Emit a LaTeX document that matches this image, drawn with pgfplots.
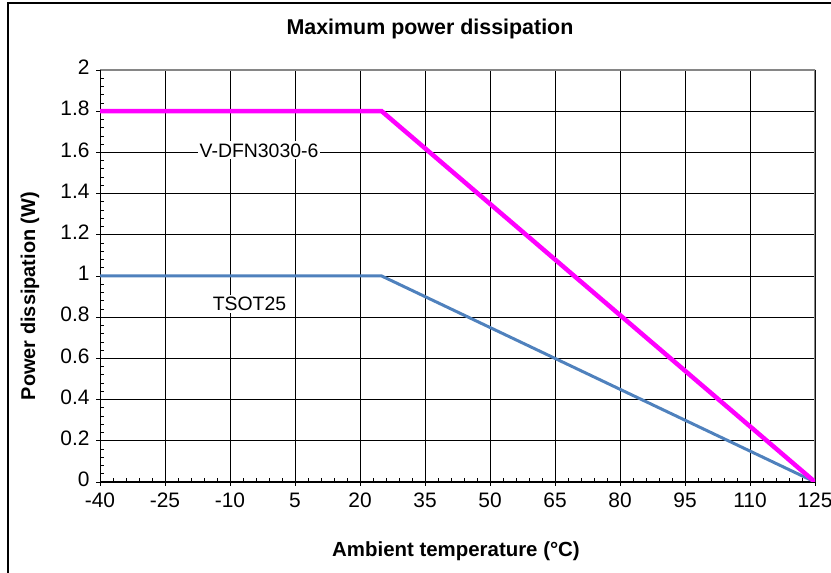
\documentclass[border=0pt]{standalone}
\usepackage{pgfplots}
\pgfplotsset{compat=1.18}
\usepackage{fontspec}
\setmainfont{Liberation Sans}
\definecolor{magline}{RGB}{255,0,255}
\definecolor{blueline}{RGB}{79,129,189}
\definecolor{boxgray}{RGB}{134,134,134}

\begin{document}
\begin{tikzpicture}[x=1bp,y=1bp]
  \useasboundingbox (0,0) rectangle (831,573);
  % outer chart frame (only left and top edges are inside the picture)
  \draw[line width=1.2bp] (8,-10) -- (8,570) -- (845,570);
  \node[font=\bfseries\fontsize{21.5}{24}\selectfont] at (430,544) {Maximum power dissipation};
  \node[font=\bfseries\fontsize{20.5}{24}\selectfont] at (456,22) {Ambient temperature (°C)};
  \node[font=\bfseries\fontsize{20}{24}\selectfont, rotate=90] at (30,277) {Power dissipation (W)};

  \begin{axis}[
    at={(100bp,91bp)}, anchor=south west,
    scale only axis, width=715bp, height=412bp,
    xmin=-40, xmax=125, ymin=0, ymax=2,
    xtick={-40,-25,-10,5,20,35,50,65,80,95,110,125},
    xticklabels={-40,-25,-10,5,20,35,50,65,80,95,110,125},
    ytick={0,0.2,0.4,0.6,0.8,1,1.2,1.4,1.6,1.8,2},
    yticklabels={0,0.2,0.4,0.6,0.8,1,1.2,1.4,1.6,1.8,2},
    minor x tick num=4, minor y tick num=4,
    xtick pos=bottom, ytick pos=left,
    tick align=inside,
    major tick length=4bp, minor tick length=4bp,
    tick style={black, line width=0.75bp},
    extra x ticks={-40,-25,-10,5,20,35,50,65,80,95,110,125},
    extra x tick labels={},
    extra x tick style={tick align=outside, grid=none},
    extra y ticks={0,0.2,0.4,0.6,0.8,1,1.2,1.4,1.6,1.8,2},
    extra y tick labels={},
    extra y tick style={tick align=outside, grid=none},
    grid=major,
    major grid style={black, line width=0.75bp},
    axis line style={draw=none},
    ticklabel style={font=\fontsize{21}{24}\selectfont},
    typeset ticklabels with strut,
    xticklabel style={yshift=-5bp},
    yticklabel style={xshift=-7bp},
  ]
    % axis box: left and bottom black, top and right gray
    \draw[boxgray, line width=1.5bp] (axis cs:-40,2) -- (axis cs:125,2) -- (axis cs:125,0);
    \draw[black, line width=1bp] (axis cs:-40,2) -- (axis cs:-40,0) -- (axis cs:125,0);

    % TSOT25
    \addplot[blueline, line width=3bp] coordinates {(-40,1) (25,1) (125,0)};
    % V-DFN3030-6
    \addplot[magline, line width=4.5bp] coordinates {(-40,1.8) (25,1.8) (125,0)};

    \node[fill=white, inner sep=2bp, font=\fontsize{19.5}{22}\selectfont] at (axis cs:-3.3,1.61) {V-DFN3030-6};
    \node[fill=white, inner sep=2bp, font=\fontsize{19.5}{22}\selectfont] at (axis cs:-5.5,0.865) {TSOT25};
  \end{axis}
\end{tikzpicture}
\end{document}
